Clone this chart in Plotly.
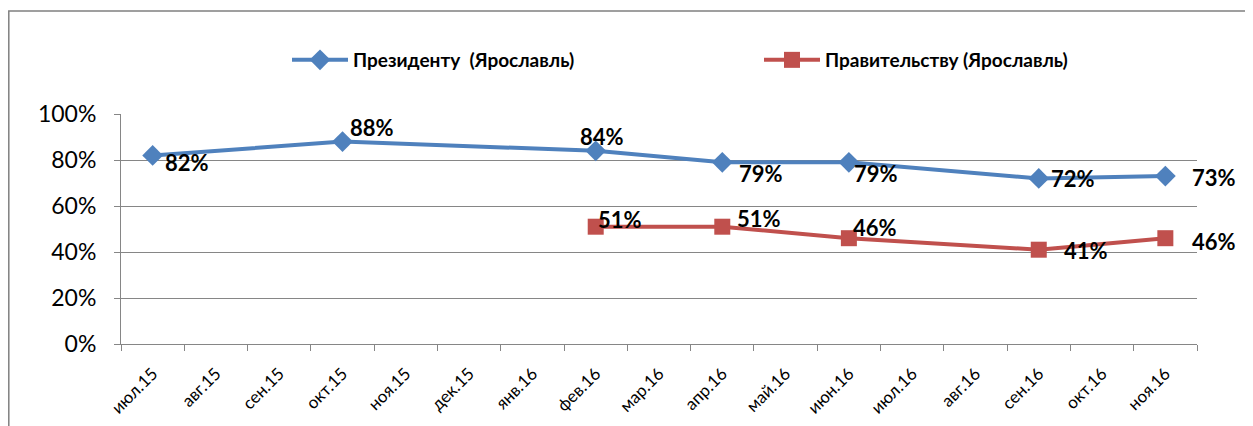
import plotly.graph_objects as go

months = ["июл.15", "авг.15", "сен.15", "окт.15", "ноя.15", "дек.15", "янв.16",
          "фев.16", "мар.16", "апр.16", "май.16", "июн.16", "июл.16", "авг.16",
          "сен.16", "окт.16", "ноя.16"]
president = [82, None, None, 88, None, None, None, 84, None, 79, None, 79, None, None, 72, None, 73]
government = [None, None, None, None, None, None, None, 51, None, 51, None, 46, None, None, 41, None, 46]
y_ticks = [0, 20, 40, 60, 80, 100]
series_names = ["Президенту  (Ярославль)", "Правительству (Ярославль)"]

# label offsets (style): (dx px from point to label's left edge, dy px up)
pres_off = {0: (11, -7), 3: (6, 14), 7: (-17, 14), 9: (16, -11), 11: (4, -11),
            14: (11, 0), 16: (26, -1)}
gov_off = {7: (1, 7), 9: (14, 8), 11: (3, 11), 14: (24, -1), 16: (26, -3)}

BLUE = "#4F81BD"
RED = "#C0504D"
FONT = "Lato"
GRID = "#868686"

# canvas-space geometry (page has an 8px body margin)
OFF = 8
W, H = 1253 - OFF, 426 - OFF
L, R, T, B = 121, 1197, 114, 344   # plot area in screenshot pixels

fig = go.Figure()
fig.add_trace(go.Scatter(
    x=months, y=president, name=series_names[0], mode="lines+markers",
    connectgaps=True, line=dict(color=BLUE, width=4),
    marker=dict(symbol="diamond", size=16, color=BLUE),
    legend="legend", cliponaxis=False))
fig.add_trace(go.Scatter(
    x=months, y=government, name=series_names[1], mode="lines+markers",
    connectgaps=True, line=dict(color=RED, width=4),
    marker=dict(symbol="square", size=16, color=RED),
    legend="legend2", cliponaxis=False))

annotations = []
for vals, offs in ((president, pres_off), (government, gov_off)):
    for i, v in enumerate(vals):
        if v is None:
            continue
        dx, dy = offs[i]
        annotations.append(dict(
            x=months[i], y=v, xref="x", yref="y", text=f"<b>{v}%</b>",
            showarrow=False, xanchor="left", yanchor="middle",
            xshift=dx, yshift=dy, borderpad=0,
            font=dict(family=FONT, size=22, color="black")))

pw = R - L
ph = B - T
def px2x(p): return (p - L) / pw
def py2y(p): return (B - p) / ph

legend_style = dict(yanchor="middle", xanchor="left", orientation="h",
                    bgcolor="rgba(0,0,0,0)", itemwidth=56,
                    font=dict(family=FONT, size=19, color="black", weight="bold"))

fig.update_layout(
    width=W, height=H,
    margin=dict(l=L - OFF, r=W - (R - OFF), t=T - OFF, b=H - (B - OFF), autoexpand=False),
    paper_bgcolor="white", plot_bgcolor="white",
    font=dict(family=FONT, color="black"),
    showlegend=True,
    legend=dict(x=px2x(287), y=py2y(60), **legend_style),
    legend2=dict(x=px2x(759), y=py2y(60), **legend_style),
    xaxis=dict(type="category", categoryorder="array", categoryarray=months,
               range=[-0.5, len(months) - 0.5], tickangle=-45,
               tickson="boundaries", ticks="outside", ticklen=6, tickcolor=GRID,
               ticklabelstandoff=12,
               showline=True, linecolor=GRID, linewidth=1, showgrid=False,
               tickfont=dict(family=FONT, size=17, color="black"), fixedrange=True),
    yaxis=dict(range=[0, 100], tickvals=y_ticks, ticktext=[f"{v}%" for v in y_ticks],
               ticks="outside", ticklen=6, tickcolor=GRID, ticklabelstandoff=13,
               showline=True, linecolor=GRID, linewidth=1,
               showgrid=True, gridcolor=GRID, gridwidth=1,
               tickfont=dict(family=FONT, size=23, color="black"), zeroline=False),
    annotations=annotations,
    shapes=[dict(type="rect", xref="paper", yref="paper",
                 x0=px2x(8.8), x1=px2x(1300), y0=py2y(500), y1=py2y(11),
                 line=dict(color="#808080", width=1.5), fillcolor="rgba(0,0,0,0)",
                 layer="below")],
)

fig.write_html("out.html")
